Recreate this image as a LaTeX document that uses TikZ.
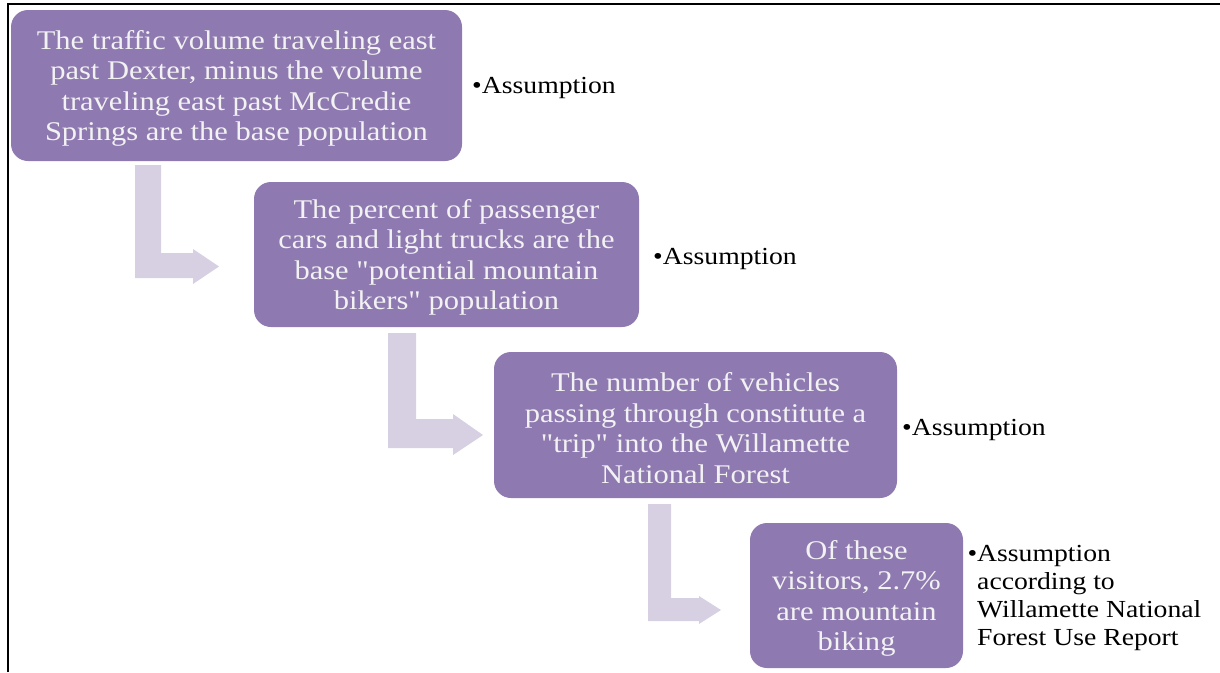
\documentclass[tikz,border=0pt]{standalone}
\usepackage{fontspec}
\setmainfont{Liberation Serif}[FakeStretch=1.13, Ligatures=TeXOff]
\definecolor{boxfill}{RGB}{142,121,177}
\definecolor{arrowfill}{RGB}{214,208,226}
\definecolor{boxtext}{RGB}{242,242,242}
\newcommand{\sq}{\symbol{34}}
\begin{document}
\begin{tikzpicture}[x=1pt,y=-1pt,
  stepbox/.style={fill=boxfill, rounded corners=17pt, inner sep=0pt},
  steptext/.style={text=boxtext, align=center, inner sep=0pt,
    font=\fontsize{27}{30.5}\selectfont},
  note/.style={anchor=west, inner sep=0pt, align=left, text=black,
    font=\fontsize{24.5}{28}\selectfont},
  larrow/.style={fill=arrowfill, draw=none}]
\useasboundingbox (0,0) rectangle (1220,672);
\draw[line width=1.6pt, black] (8,672) -- (8,4) -- (1220,4);

% process boxes
\node[stepbox, minimum width=451pt, minimum height=151pt] (b1) at (236.5,85.5) {};
\node[stepbox, minimum width=385pt, minimum height=145pt] (b2) at (446.5,254.5) {};
\node[stepbox, minimum width=403pt, minimum height=146pt] (b3) at (695.5,425) {};
\node[stepbox, minimum width=213pt, minimum height=145pt] (b4) at (856.5,595.5) {};

\node[steptext] (t1) at ([yshift=-3pt]b1.center)
  {The traffic volume traveling east\\past Dexter, minus the volume\\traveling east past McCredie\\Springs are the base population};
\node[steptext] (t2) at ([yshift=-3pt]b2.center)
  {The percent of passenger\\cars and light trucks are the\\base \sq potential mountain\\bikers\sq{} population};
\node[steptext] (t3) at ([yshift=-3pt]b3.center)
  {The number of vehicles\\passing through constitute a\\\sq trip\sq{} into the Willamette\\National Forest};
\node[steptext] (t4) at ([yshift=-3pt]b4.center)
  {Of these\\visitors, 2.7\%\\are mountain\\biking};

% notes
\node[note] (n1) at (472,88) {•Assumption};
\node[note] (n2) at (653,259) {•Assumption};
\node[note] (n3) at (902,430) {•Assumption};
\node[note] (n4) at (977,598) {\llap{•}Assumption\\according to\\Willamette National\\Forest Use Report};

% bent arrows
\fill[larrow] (135,165) -- (161,165) -- (161,253) -- (193,253) -- (193,249) -- (219,266.5)
  -- (193,284) -- (193,278) -- (135,278) -- cycle;
\fill[larrow] (388,333) -- (416,333) -- (416,419) -- (453,419) -- (453,414) -- (483,435)
  -- (453,455) -- (453,448) -- (388,448) -- cycle;
\fill[larrow] (648,504) -- (671,504) -- (671,598) -- (699,598) -- (699,596) -- (721,610)
  -- (699,624) -- (699,621) -- (648,621) -- cycle;
\end{tikzpicture}
\end{document}
